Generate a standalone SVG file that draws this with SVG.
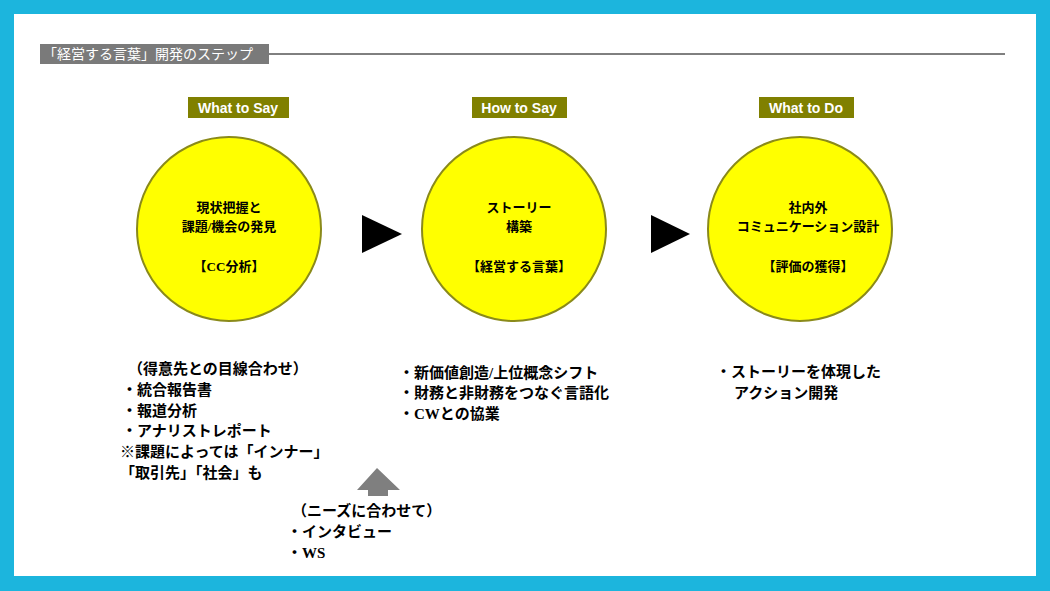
<svg xmlns="http://www.w3.org/2000/svg" width="1050" height="591" viewBox="0 0 1050 591">
<style>
.t{font-family:"Liberation Serif","Noto Sans CJK JP",serif;font-weight:bold;fill:#000}
.c{font-size:13px;text-anchor:middle}
.l{font-size:15px}
.h{font-family:"Liberation Sans","Noto Sans",sans-serif;font-weight:bold;font-size:14px;fill:#fff;text-anchor:middle}
.circ{fill:#ffff00;stroke:#8a8a1a;stroke-width:2}
</style>
<rect x="0" y="0" width="1050" height="591" fill="#1cb5dd"/>
<rect x="14" y="14" width="1022" height="562" fill="#fff"/>
<g id="title">
<rect x="40" y="44" width="229" height="20" fill="#7a7a7a"/>
<text x="43" y="59" font-family="Liberation Serif,Noto Sans CJK JP,serif" font-size="14" fill="#fff">「経営する言葉」開発のステップ</text>
<line x1="269" y1="54" x2="1005" y2="54" stroke="#000" stroke-width="1"/>
</g>
<g id="node1">
<rect x="188" y="97" width="101" height="21" fill="#808000"/>
<text class="h" x="238" y="113">What to Say</text>
<circle class="circ" cx="229" cy="229" r="92"/>
<text class="t c" x="229" y="212">現状把握と</text>
<text class="t c" x="229" y="231">課題/機会の発見</text>
<text class="t c" x="229" y="271">【CC分析】</text>
</g>
<g id="node2">
<rect x="472" y="97" width="95" height="21" fill="#808000"/>
<text class="h" x="519" y="113">How to Say</text>
<circle class="circ" cx="514" cy="229" r="92"/>
<text class="t c" x="519" y="212">ストーリー</text>
<text class="t c" x="519" y="231">構築</text>
<text class="t c" x="519" y="271">【経営する言葉】</text>
</g>
<g id="node3">
<rect x="759" y="97" width="95" height="21" fill="#808000"/>
<text class="h" x="806" y="113">What to Do</text>
<circle class="circ" cx="800" cy="229" r="92"/>
<text class="t c" x="808" y="212">社内外</text>
<text class="t c" x="808" y="231">コミュニケーション設計</text>
<text class="t c" x="808" y="271">【評価の獲得】</text>
</g>
<g id="connectors">
<polygon points="362,215 402,234 362,253" fill="#000"/>
<polygon points="651,215 690,234 651,253" fill="#000"/>
<polygon points="357,490 377,468 400,490 388,490 388,496 368,496 368,490" fill="#7f7f7f"/>
</g>
<g id="notes">
<text class="t l" x="128" y="374">（得意先との目線合わせ）</text>
<text class="t l" x="122" y="395">・統合報告書</text>
<text class="t l" x="122" y="416">・報道分析</text>
<text class="t l" x="122" y="436">・アナリストレポート</text>
<text class="t l" x="120" y="457">※課題によっては「インナー」</text>
<text class="t l" x="120" y="478">「取引先」「社会」も</text>
<text class="t l" x="292" y="516">（ニーズに合わせて）</text>
<text class="t l" x="287" y="537">・インタビュー</text>
<text class="t l" x="287" y="558">・WS</text>
<text class="t l" x="399" y="378">・新価値創造/上位概念シフト</text>
<text class="t l" x="399" y="398">・財務と非財務をつなぐ言語化</text>
<text class="t l" x="399" y="419">・CWとの協業</text>
<text class="t l" x="716" y="377">・ストーリーを体現した</text>
<text class="t l" x="734" y="398">アクション開発</text>
</g>
</svg>
